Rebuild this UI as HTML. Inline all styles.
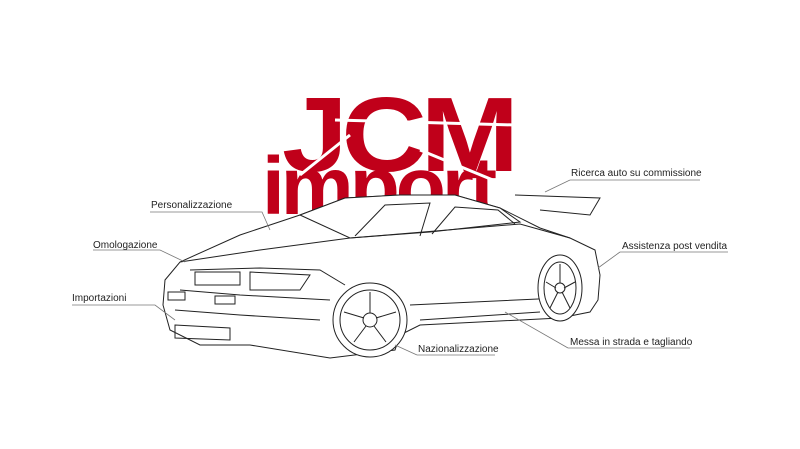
<!DOCTYPE html>
<html><head><meta charset="utf-8"><style>
body{margin:0;width:800px;height:449px;background:#fff;overflow:hidden;position:relative;font-family:"Liberation Sans",sans-serif}
.l{position:absolute;font-size:10px;color:#222;white-space:nowrap}
.logo{position:absolute;font-family:"Liberation Sans",sans-serif;font-weight:bold;color:#c0001a;line-height:1}
</style></head><body>
<div class="logo" style="left:282px;top:82px;font-size:106px;letter-spacing:-6px;transform:scaleX(1.12);transform-origin:left">JCM</div>
<div class="logo" style="left:262px;top:146px;font-size:82px;letter-spacing:-4px">import</div>
<svg width="800" height="449" style="position:absolute;left:0;top:0" fill="none" stroke="#222" stroke-width="1">
<g stroke="#fff" stroke-width="3"><line x1="335" y1="120" x2="515" y2="125"/><line x1="300" y1="175" x2="350" y2="135"/><line x1="420" y1="150" x2="505" y2="185"/></g>
<path fill="#fff" d="M165 280 L180 262 L240 235 L300 215 L345 198 L400 195 L455 195 L500 208 L540 228 L570 238 L595 250 L600 275 L598 300 L590 312 L560 318 L420 325 L400 335 L395 350 L330 358 L250 345 L200 345 L170 330 L163 305 Z"/>
<path fill="#fff" d="M300 215 L345 198 L400 195 L455 195 L500 208 L520 222 L430 232 L350 238 Z"/>
<path d="M355 236 L385 205 L430 203 L420 236 M432 234 L455 207 L498 210 L515 224"/>
<path d="M180 262 L260 250 L350 238 L520 224 L570 238"/>
<path d="M190 270 L260 268 L320 270 L345 285 M180 290 L240 295 L330 300 M175 310 L240 315 L320 320 M410 305 L560 298 M420 320 L540 312"/>
<path d="M195 272 L240 272 L240 285 L195 285 Z M250 272 L310 275 L300 290 L250 290 Z"/>
<path d="M175 325 L230 328 L230 340 L175 338 Z M168 292 L185 292 L185 300 L168 300 Z M215 296 L235 296 L235 304 L215 304Z"/>
<path d="M515 195 L600 198 L590 215 L540 210"/>
<circle cx="370" cy="320" r="37" fill="#fff"/><circle cx="370" cy="320" r="30"/><circle cx="370" cy="320" r="7"/>
<path d="M370 313 L370 292 M376 318 L396 312 M374 326 L386 342 M366 326 L354 342 M364 318 L344 312"/>
<ellipse cx="560" cy="288" rx="22" ry="33" fill="#fff"/><ellipse cx="560" cy="288" rx="16" ry="26"/><circle cx="560" cy="288" r="5"/>
<path d="M560 283 L560 264 M564 288 L575 282 M562 292 L570 308 M558 292 L550 308 M556 288 L546 282"/>
<g stroke="#777" stroke-width="0.8">
<path d="M150 212 L262 212 L270 230"/>
<path d="M93 250 L160 250 L185 262"/>
<path d="M72 305 L155 305 L175 320"/>
<path d="M417 355 L495 355 M417 355 L395 345"/>
<path d="M570 180 L700 180 M570 180 L545 192"/>
<path d="M620 252 L728 252 M620 252 L598 268"/>
<path d="M568 348 L690 348 M568 348 L505 312"/>
</g>
</svg>
<div class="l" style="left:151px;top:200px">Personalizzazione</div>
<div class="l" style="left:93px;top:240px">Omologazione</div>
<div class="l" style="left:72px;top:293px">Importazioni</div>
<div class="l" style="left:418px;top:344px">Nazionalizzazione</div>
<div class="l" style="left:571px;top:168px">Ricerca auto su commissione</div>
<div class="l" style="left:622px;top:241px">Assistenza post vendita</div>
<div class="l" style="left:570px;top:337px">Messa in strada e tagliando</div>
</body></html>
